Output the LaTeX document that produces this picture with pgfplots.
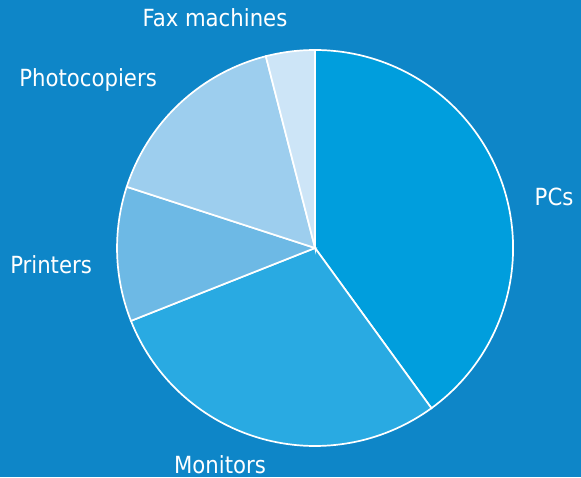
\documentclass[border=0pt]{standalone}
\usepackage{pgfplots}
\pgfplotsset{compat=1.18}
\usepackage{fontspec}
\setmainfont{DejaVu Sans Condensed}
\definecolor{bg}{RGB}{14,134,200}
\definecolor{cPC}{RGB}{0,158,221}
\definecolor{cMon}{RGB}{41,170,226}
\definecolor{cPrn}{RGB}{109,185,229}
\definecolor{cPho}{RGB}{157,206,238}
\definecolor{cFax}{RGB}{205,229,247}
% shares in percent
\def\vPC{40}\def\vMon{29}\def\vPrn{11}\def\vPho{16}\def\vFax{4}
\pgfmathsetmacro{\aA}{90}
\pgfmathsetmacro{\aB}{\aA-3.6*\vPC}
\pgfmathsetmacro{\aC}{\aB-3.6*\vMon}
\pgfmathsetmacro{\aD}{\aC-3.6*\vPrn}
\pgfmathsetmacro{\aE}{\aD-3.6*\vPho}
\pgfmathsetmacro{\aF}{\aE-3.6*\vFax}
\begin{document}
\begin{tikzpicture}
\begin{axis}[
  scale only axis, width=290.5pt, height=238.5pt,
  xmin=-1.591, xmax=1.343, ymin=-1.1566, ymax=1.2525,
  hide axis, clip=false,
]
\fill[bg] (rel axis cs:0,0) rectangle (rel axis cs:1,1);
\addplot[fill=cPC, draw=white, line width=0.85pt, domain=\aB:\aA, samples=90] ({cos(x)},{sin(x)}) -- (axis cs:0,0) -- cycle;
\addplot[fill=cMon, draw=white, line width=0.85pt, domain=\aC:\aB, samples=70] ({cos(x)},{sin(x)}) -- (axis cs:0,0) -- cycle;
\addplot[fill=cPrn, draw=white, line width=0.85pt, domain=\aD:\aC, samples=40] ({cos(x)},{sin(x)}) -- (axis cs:0,0) -- cycle;
\addplot[fill=cPho, draw=white, line width=0.85pt, domain=\aE:\aD, samples=50] ({cos(x)},{sin(x)}) -- (axis cs:0,0) -- cycle;
\addplot[fill=cFax, draw=white, line width=0.85pt, domain=\aF:\aE, samples=20] ({cos(x)},{sin(x)}) -- (axis cs:0,0) -- cycle;
\begin{scope}[every node/.style={text=white, font=\fontsize{11.8}{13}\selectfont, inner sep=0pt}]
\node at (axis cs:-0.505,1.162) {Fax machines};
\node at (axis cs:-1.146,0.848) {Photocopiers};
\node at (axis cs:-1.333,-0.086) {Printers};
\node at (axis cs:-0.480,-1.096) {Monitors};
\node at (axis cs:1.207,0.258) {PCs};
\end{scope}
\end{axis}
\end{tikzpicture}
\end{document}
